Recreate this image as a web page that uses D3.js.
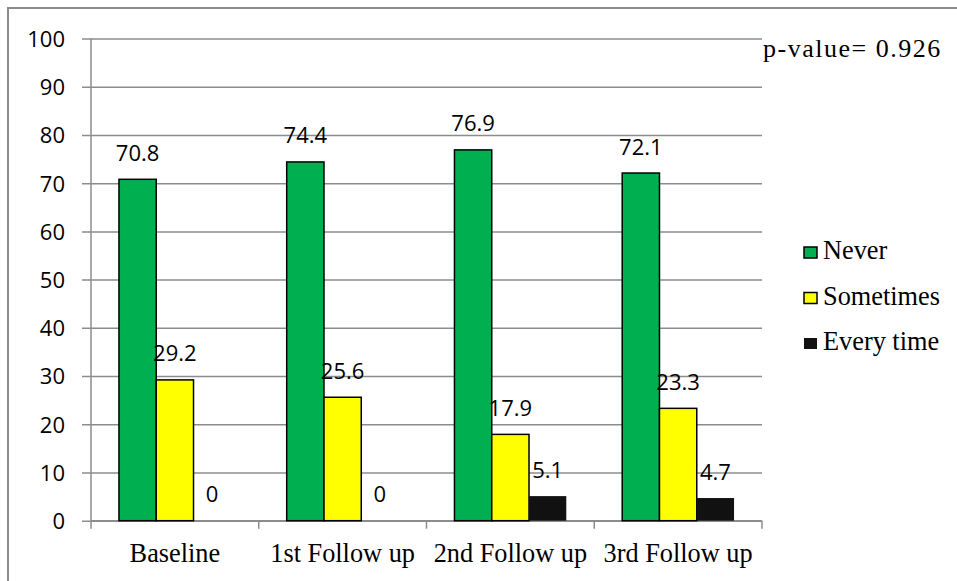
<!DOCTYPE html>
<html>
<head>
<meta charset="utf-8">
<script src="https://cdn.jsdelivr.net/npm/d3@7"></script>
<style>
  html, body { margin: 0; padding: 0; background: #fff; }
  svg { display: block; }
</style>
</head>
<body>
<svg id="chart" width="957" height="581"></svg>
<script>
// Survey periods and the share of responses (%) in each answer group
const categories = ["Baseline", "1st Follow up", "2nd Follow up", "3rd Follow up"];
const seriesNames = ["Never", "Sometimes", "Every time"];
const never = [70.8, 74.4, 76.9, 72.1];
const sometimes = [29.2, 25.6, 17.9, 23.3];
const everyTime = [0, 0, 5.1, 4.7];
const yTicks = [0, 10, 20, 30, 40, 50, 60, 70, 80, 90, 100];
const pValueText = "p-value= 0.926";

const seriesValues = [never, sometimes, everyTime];
const colors = ["#00B050", "#FFFF00", "#111111"];
const gridColor = "#8c8c8c";
const numFont = "'Open Sans', 'Liberation Sans', sans-serif";
const serifFont = "'Liberation Serif', 'Times New Roman', 'DejaVu Serif', serif";

const svg = d3.select("#chart");

// Frame around the chart area
svg.append("rect")
  .attr("x", 8).attr("y", 8).attr("width", 1200).attr("height", 1200)
  .attr("fill", "none").attr("stroke", gridColor).attr("stroke-width", 2);

const plot = { left: 91, right: 762, top: 38.5, bottom: 520.7 };

const x0 = d3.scaleBand().domain(categories)
  .range([plot.left, plot.right]).paddingInner(0).paddingOuter(0);
const barW = x0.bandwidth() / 4.5;
const x1 = d3.scaleBand().domain(seriesNames)
  .range([0, barW * 3]);
const groupOffset = (x0.bandwidth() - barW * 3) / 2;

const y = d3.scaleLinear().domain([0, 100]).range([plot.bottom, plot.top]);

// Horizontal gridlines with left tick marks and labels
const yAxis = d3.axisLeft(y).tickValues(yTicks)
  .tickSize(-(plot.right - plot.left + 9)).tickPadding(17).tickFormat(d3.format("d"));
const yg = svg.append("g").attr("transform", `translate(${plot.left - 9},0)`).call(yAxis);
yg.select(".domain").remove();
yg.selectAll(".tick line").attr("stroke", gridColor).attr("stroke-width", 1.5);
yg.selectAll(".tick text")
  .attr("font-family", numFont).attr("font-size", 22).attr("fill", "#000")
  .attr("dy", "0.36em");

// Vertical axis line
svg.append("line")
  .attr("x1", plot.left).attr("x2", plot.left)
  .attr("y1", plot.top).attr("y2", plot.bottom)
  .attr("stroke", gridColor).attr("stroke-width", 1.5);

// Category axis: baseline, boundary ticks and labels
svg.append("line")
  .attr("x1", plot.left).attr("x2", plot.right)
  .attr("y1", plot.bottom).attr("y2", plot.bottom)
  .attr("stroke", gridColor).attr("stroke-width", 1.5);
const boundaries = categories.map(c => x0(c)).concat([x0(categories[categories.length - 1]) + x0.bandwidth()]);
svg.selectAll("line.cat-tick").data(boundaries).join("line")
  .attr("class", "cat-tick")
  .attr("x1", d => d).attr("x2", d => d)
  .attr("y1", plot.bottom).attr("y2", plot.bottom + 8)
  .attr("stroke", gridColor).attr("stroke-width", 1.5);
svg.selectAll("text.cat").data(categories).join("text")
  .attr("class", "cat")
  .attr("x", d => x0(d) + x0.bandwidth() / 2)
  .attr("y", 561.5)
  .attr("text-anchor", "middle")
  .attr("font-family", serifFont).attr("font-size", 26.3).attr("fill", "#000")
  .text(d => d);

// Bars grouped by period
const groups = svg.selectAll("g.period").data(categories).join("g")
  .attr("class", "period")
  .attr("transform", d => `translate(${x0(d) + groupOffset},0)`);

seriesNames.forEach((name, si) => {
  groups.append("rect")
    .attr("x", x1(name))
    .attr("width", barW)
    .attr("y", (d, i) => y(seriesValues[si][i]))
    .attr("height", (d, i) => y(0) - y(seriesValues[si][i]))
    .attr("fill", colors[si])
    .attr("stroke", seriesValues[si] === everyTime ? "none" : "#000")
    .attr("stroke-width", 1.5);

  groups.append("text")
    .attr("x", x1(name) + barW / 2)
    .attr("y", (d, i) => y(seriesValues[si][i]) - 18.5)
    .attr("text-anchor", "middle")
    .attr("font-family", numFont).attr("font-size", 22).attr("fill", "#000")
    .text((d, i) => seriesValues[si][i]);
});

// Legend
const legend = svg.append("g");
seriesNames.forEach((name, i) => {
  const ly = 259 + i * 45.5;
  legend.append("rect")
    .attr("x", 804).attr("y", ly - 12).attr("width", 13).attr("height", 11)
    .attr("fill", colors[i])
    .attr("stroke", i === 2 ? "none" : "#000").attr("stroke-width", 1.5);
  legend.append("text")
    .attr("x", 823).attr("y", ly)
    .attr("font-family", serifFont).attr("font-size", 26.3).attr("fill", "#000")
    .text(name);
});

// Test statistic
svg.append("text")
  .attr("x", 763).attr("y", 57)
  .attr("font-family", serifFont).attr("font-size", 26).attr("fill", "#000")
  .attr("letter-spacing", 1.5)
  .text(pValueText);
</script>
</body>
</html>
